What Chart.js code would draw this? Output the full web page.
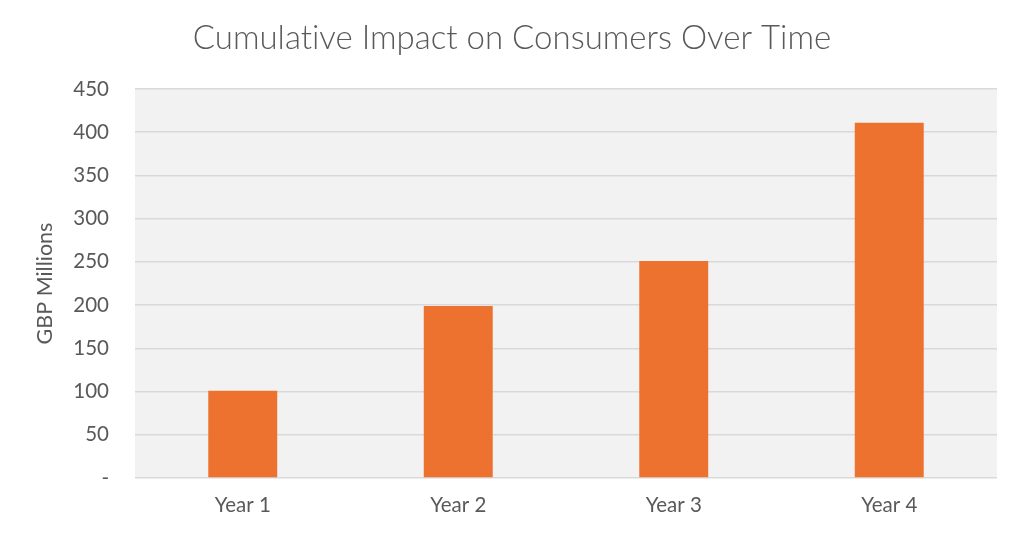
<!DOCTYPE html>
<html>
<head>
<meta charset="utf-8">
<script src="https://cdn.jsdelivr.net/npm/chart.js@4"></script>
<style>
  html, body { margin: 0; padding: 0; background: #ffffff; }
  #wrap { width: 1024px; height: 533px; }
</style>
</head>
<body>
<div id="wrap"><canvas id="impactChart"></canvas></div>
<script>
const categories = ['Year 1', 'Year 2', 'Year 3', 'Year 4'];
const impactValues = [101, 199, 251, 411];
const yTicks = [0, 50, 100, 150, 200, 250, 300, 350, 400, 450];

const palette = {
  bar: '#ED7230',
  plotBg: '#F2F2F2',
  gridLine: '#D9D9D9',
  text: '#595959',
  title: '#595959'
};

const FONT = 'Lato, "Open Sans", sans-serif';

Chart.register({
  id: 'plotBackground',
  beforeInit(chart) {
    // keeps Lato from joining "ti" into a ligature
    chart.ctx.textRendering = 'optimizeSpeed';
  },
  beforeDraw(chart) {
    const { ctx, chartArea: { left, top, width, height } } = chart;
    ctx.textRendering = 'optimizeSpeed';
    ctx.save();
    ctx.fillStyle = palette.plotBg;
    ctx.fillRect(left, top, width, height);
    ctx.restore();
  }
});

new Chart(document.getElementById('impactChart'), {
  type: 'bar',
  data: {
    labels: categories,
    datasets: [{
      label: 'GBP Millions',
      data: impactValues,
      backgroundColor: palette.bar,
      borderWidth: 0,
      categoryPercentage: 1,
      barPercentage: 0.32
    }]
  },
  options: {
    responsive: true,
    maintainAspectRatio: false,
    animation: false,
    layout: { padding: 0 },
    plugins: {
      legend: { display: false },
      tooltip: { enabled: false },
      title: {
        display: true,
        text: 'Cumulative Impact on Consumers Over Time',
        color: palette.title,
        font: { family: FONT, size: 33, weight: '300', lineHeight: 1.2 },
        padding: { top: 19, bottom: 30.4 }
      }
    },
    scales: {
      x: {
        grid: { display: false, drawTicks: false },
        border: { display: false },
        ticks: { color: palette.text, font: { family: FONT, size: 20.5 }, padding: 15 },
        afterFit(scale) { scale.height = 55; }
      },
      y: {
        min: 0,
        max: 450,
        afterBuildTicks(scale) { scale.ticks = yTicks.map(v => ({ value: v })); },
        grid: { color: palette.gridLine, lineWidth: 1.5, drawTicks: false },
        border: { display: false },
        ticks: {
          color: palette.text,
          font: { family: FONT, size: 20.5 },
          padding: 26,
          callback: v => (v === 0 ? '-' : v)
        },
        title: {
          display: true,
          text: 'GBP Millions',
          color: palette.text,
          font: { family: FONT, size: 21.5, lineHeight: 1.2 },
          padding: { top: 32, bottom: 0 }
        },
        afterFit(scale) { scale.width = 135; }
      },
      // empty right-hand strip so the title stays centred on the page
      yRight: {
        type: 'linear',
        position: 'right',
        grid: { display: false, drawTicks: false },
        border: { display: false },
        ticks: { display: false },
        afterFit(scale) { scale.width = 27; }
      }
    }
  }
});
</script>
</body>
</html>
